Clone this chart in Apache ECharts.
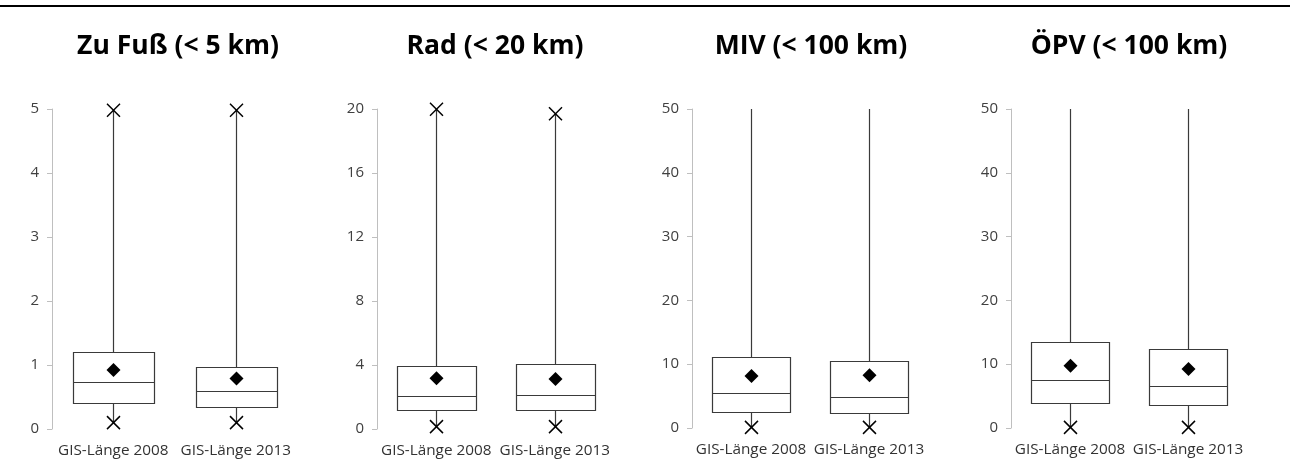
<!DOCTYPE html>
<html><head><meta charset="utf-8">
<script src="https://cdn.jsdelivr.net/npm/echarts@6/dist/echarts.min.js"></script>
<style>html,body{margin:0;padding:0;background:#fff}#c{width:1290px;height:475px}</style>
</head><body><div id="c"></div>
<script>
// ---- data ----
const categories = ['GIS-Länge 2008', 'GIS-Länge 2013'];
const panelTitles = ['Zu Fuß (< 5 km)', 'Rad (< 20 km)', 'MIV (< 100 km)', 'ÖPV (< 100 km)'];
const yMax = [5, 20, 50, 50];
const yInterval = [1, 4, 10, 10];
// box values per category: [min, Q1, median, Q3, max]
const fussBox = [[0.10, 0.41, 0.73, 1.20, 4.98], [0.10, 0.35, 0.60, 0.97, 4.98]];
const fussMean = [0.92, 0.79];
const radBox = [[0.15, 1.19, 2.06, 3.92, 19.98], [0.15, 1.19, 2.12, 4.08, 19.7]];
const radMean = [3.17, 3.12];
const mivBox = [[0.1, 2.5, 5.43, 11.06, 99.9], [0.1, 2.3, 4.85, 10.53, 99.9]];
const mivMean = [8.14, 8.25];
const opvBox = [[0.1, 3.96, 7.51, 13.46, 99.9], [0.1, 3.55, 6.62, 12.36, 99.9]];
const opvMean = [9.75, 9.23];

const boxes = [fussBox, radBox, mivBox, opvBox];
const means = [fussMean, radMean, mivMean, opvMean];

// ---- layout ----
const grids = [
  {left: 52, top: 109, width: 245, height: 320},
  {left: 377, top: 109, width: 237, height: 320},
  {left: 692, top: 109, width: 236, height: 319},
  {left: 1011, top: 109, width: 236, height: 319}
];
const titleCenters = [173, 490, 806, 1124];
const FONT = "'Open Sans', sans-serif";

function renderBox(params, api) {
  const x = api.value(0);
  const v = [1, 2, 3, 4, 5].map(i => api.value(i));
  const mean = api.value(6);
  const cs = params.coordSys;
  const top = cs.y, bottom = cs.y + cs.height;
  const bw = api.size([1, 0])[0] * 0.665;
  const pt = val => api.coord([x, val]);
  const cx = Math.round(pt(v[0])[0]) + 0.5;
  const yMin = pt(v[0])[1], yQ1 = Math.round(pt(v[1])[1]) + 0.5, yMed = Math.round(pt(v[2])[1]) + 0.5,
        yQ3 = Math.round(pt(v[3])[1]) + 0.5, yMx = pt(v[4])[1];
  const clampY = y => Math.max(top, Math.min(bottom, y));
  const st = {stroke: '#3a3a3a', lineWidth: 1.2};
  const ch = [];
  ch.push({type: 'line', shape: {x1: cx, y1: clampY(yMx), x2: cx, y2: yQ3}, style: st});
  ch.push({type: 'line', shape: {x1: cx, y1: yQ1, x2: cx, y2: yMin}, style: st});
  const bx = Math.round(cx - bw / 2) + 0.5;
  ch.push({type: 'rect', shape: {x: bx, y: yQ3, width: Math.round(bw), height: yQ1 - yQ3},
           style: {fill: '#fff', stroke: '#3a3a3a', lineWidth: 1.2}});
  ch.push({type: 'line', shape: {x1: bx, y1: yMed, x2: bx + Math.round(bw), y2: yMed}, style: st});
  const s = 6.5;
  [yMin, yMx].forEach(y => {
    if (y >= top - 1 && y <= bottom + 1) {
      ch.push({type: 'line', shape: {x1: cx - s, y1: y - s, x2: cx + s, y2: y + s}, style: {stroke: '#000', lineWidth: 1.5}});
      ch.push({type: 'line', shape: {x1: cx - s, y1: y + s, x2: cx + s, y2: y - s}, style: {stroke: '#000', lineWidth: 1.5}});
    }
  });
  const ym = pt(mean)[1], d = 7;
  ch.push({type: 'polygon', shape: {points: [[cx, ym - d], [cx + d, ym], [cx, ym + d], [cx - d, ym]]}, style: {fill: '#000'}});
  return {type: 'group', children: ch};
}

const option = {
  backgroundColor: '#fff',
  animation: false,
  graphic: [{type: 'rect', left: 0, top: 5, shape: {width: 1290, height: 2}, style: {fill: '#000'}}],
  title: panelTitles.map((t, i) => ({
    text: t, left: titleCenters[i], top: 28, textAlign: 'center',
    textStyle: {fontFamily: FONT, fontWeight: 'bold', fontSize: 26.5, color: '#000'}
  })),
  grid: grids,
  xAxis: grids.map((g, i) => ({
    type: 'category', gridIndex: i, data: categories,
    axisLine: {show: false}, axisTick: {show: false},
    axisLabel: {fontFamily: FONT, fontSize: 15.3, color: '#333', margin: 14, interval: 0}
  })),
  yAxis: grids.map((g, i) => ({
    type: 'value', gridIndex: i, min: 0, max: yMax[i], interval: yInterval[i],
    axisLine: {show: true, lineStyle: {color: '#bfbfbf', width: 1}},
    axisTick: {show: true, length: 5, lineStyle: {color: '#bfbfbf'}},
    splitLine: {show: false},
    axisLabel: {fontFamily: FONT, fontSize: 15, color: '#404040', margin: 13}
  })),
  series: boxes.map((b, i) => ({
    type: 'custom', xAxisIndex: i, yAxisIndex: i,
    renderItem: renderBox,
    encode: {x: 0, y: [1, 2, 3, 4, 5]},
    data: b.map((row, j) => [j, ...row, means[i][j]])
  }))
};
const chart = echarts.init(document.getElementById('c'), null, {renderer: 'canvas'});
chart.setOption(option);
</script></body></html>
